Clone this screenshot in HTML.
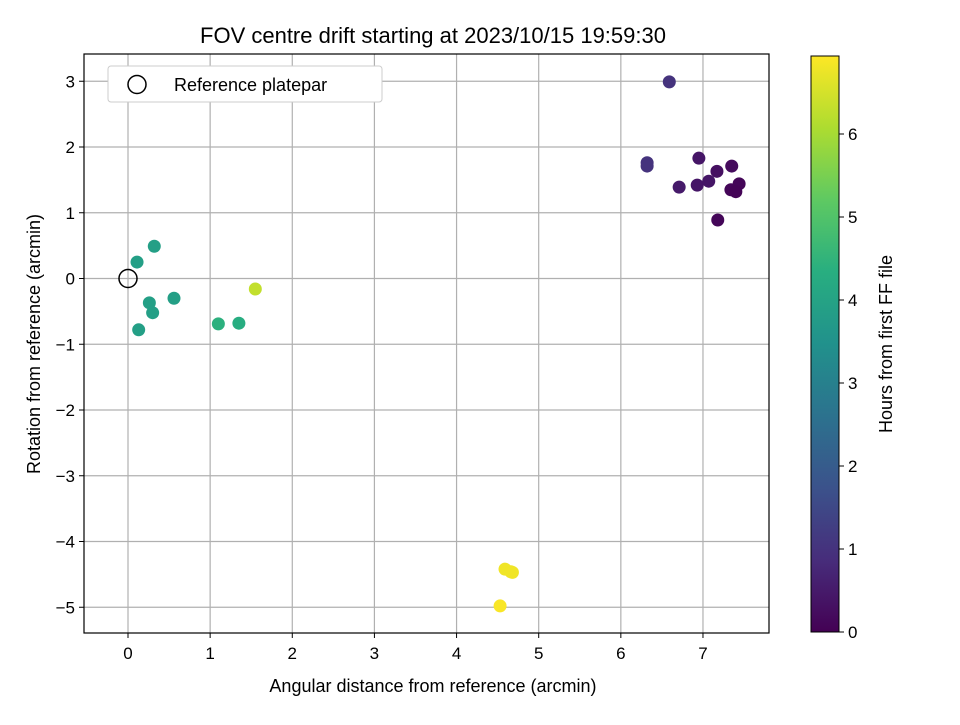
<!DOCTYPE html>
<html><head><meta charset="utf-8"><style>
body{margin:0;background:#fff;}
svg{font-family:"Liberation Sans","DejaVu Sans",sans-serif;}
</style></head><body>
<svg id="chart" width="960" height="720">
<defs><linearGradient id="vir" x1="0" y1="1" x2="0" y2="0">
<stop offset="0" stop-color="#440154"/><stop offset="0.125" stop-color="#472d7b"/><stop offset="0.25" stop-color="#3b528b"/><stop offset="0.375" stop-color="#2c728e"/><stop offset="0.5" stop-color="#21918c"/><stop offset="0.625" stop-color="#28ae80"/><stop offset="0.75" stop-color="#5ec962"/><stop offset="0.875" stop-color="#addc30"/><stop offset="1" stop-color="#fde725"/></linearGradient></defs>
<text x="433" y="43" text-anchor="middle" font-size="22">FOV centre drift starting at 2023/10/15 19:59:30</text>
<g id="grid"></g><g id="pts"></g>
<rect x="84" y="54" width="685" height="579" fill="none" stroke="#000" stroke-width="1.2"/>
<g id="axes"></g>
<text x="433" y="692" text-anchor="middle" font-size="18">Angular distance from reference (arcmin)</text>
<text transform="translate(40,344) rotate(-90)" text-anchor="middle" font-size="18">Rotation from reference (arcmin)</text>
<g>
<rect x="108" y="66" width="274" height="36" rx="3" fill="#fff" stroke="#ccc"/>
<circle cx="137" cy="84.5" r="9" fill="none" stroke="#000" stroke-width="1.5"/>
<text x="174" y="91" font-size="18">Reference platepar</text>
</g>
<rect x="811" y="56" width="28" height="576" fill="url(#vir)" stroke="#000" stroke-width="1"/>
<g id="cbticks"></g>
<text transform="translate(892,344) rotate(-90)" text-anchor="middle" font-size="18">Hours from first FF file</text>
</svg>
<script>
const xs=[6.59,6.32,6.32,6.95,6.71,6.93,7.07,7.17,7.35,7.44,7.34,7.40,7.18,0.32,0.11,0.26,0.30,0.56,0.13,1.10,1.35,1.55,4.59,4.66,4.68,4.53];
const ys=[2.99,1.76,1.71,1.83,1.39,1.42,1.48,1.63,1.71,1.44,1.35,1.32,0.89,0.49,0.25,-0.37,-0.52,-0.30,-0.78,-0.69,-0.68,-0.16,-4.42,-4.46,-4.47,-4.98];
const hrs=[1.0,1.0,1.0,0.4,0.5,0.4,0.4,0.3,0.2,0.1,0.1,0.05,0.1,3.9,3.9,3.9,3.9,3.9,3.9,4.4,4.3,6.3,6.8,6.8,6.8,6.9];
const xTicks=[0,1,2,3,4,5,6,7];
const yTicks=[3,2,1,0,-1,-2,-3,-4,-5];
const cTicks=[0,1,2,3,4,5,6];
const X=v=>128+v*82.14, Y=v=>278.5-v*65.75, C=v=>632-v*83;
const NS="http://www.w3.org/2000/svg";
function mk(t,a,p){const e=document.createElementNS(NS,t);for(const k in a)e.setAttribute(k,a[k]);p.appendChild(e);return e;}
const stops=[[68,1,84],[71,45,123],[59,82,139],[44,114,142],[33,145,140],[40,174,128],[94,201,98],[173,220,48],[253,231,37]];
function vir(h){let t=Math.max(0,Math.min(1,h/6.94))*8;let i=Math.min(7,Math.floor(t)),f=t-i;const a=stops[i],b=stops[i+1];return `rgb(${a.map((v,k)=>Math.round(v+(b[k]-v)*f)).join(',')})`;}
const g=document.getElementById('grid'),ax=document.getElementById('axes'),pts=document.getElementById('pts'),cb=document.getElementById('cbticks');
xTicks.forEach(v=>{const x=X(v);
const l=mk('line',{x1:x,x2:x,y1:54,y2:633,stroke:'#b0b0b0','stroke-width':1.2},g);

mk('line',{x1:x,x2:x,y1:633,y2:638,stroke:'#000'},ax);
const t=mk('text',{x:x,y:659,'text-anchor':'middle','font-size':17},ax);t.textContent=v;
});
yTicks.forEach(v=>{const y=Y(v);
const l=mk('line',{x1:84,x2:769,y1:y,y2:y,stroke:'#b0b0b0','stroke-width':1.2},g);

mk('line',{x1:79,x2:84,y1:y,y2:y,stroke:'#000'},ax);
const t=mk('text',{x:75,y:y+6,'text-anchor':'end','font-size':17},ax);t.textContent=(v<0?'\u2212'+(-v):v);
});
xs.forEach((v,i)=>{const c=mk('circle',{cx:X(v),cy:Y(ys[i]),r:6.5,fill:vir(hrs[i])},pts);
});
const ref=mk('circle',{cx:X(0),cy:Y(0),r:9,fill:'none',stroke:'#000','stroke-width':1.5},pts);

cTicks.forEach(v=>{const y=C(v);mk('line',{x1:839,x2:844,y1:y,y2:y,stroke:'#000'},cb);
const t=mk('text',{x:848,y:y+6,'font-size':17},cb);t.textContent=v;
});
</script>
</body></html>
